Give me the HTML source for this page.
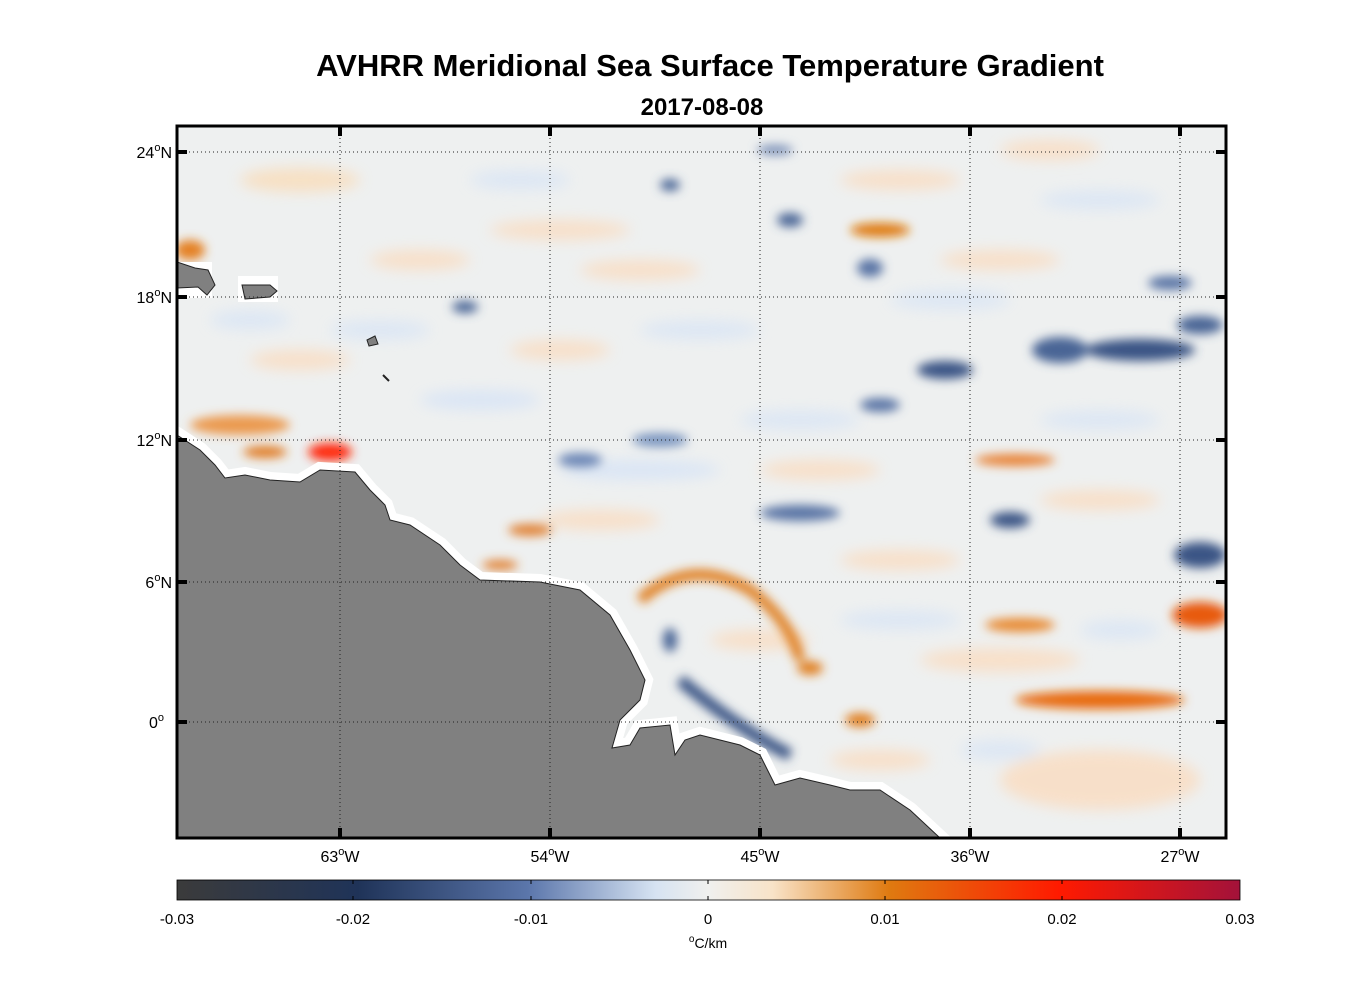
<!DOCTYPE html>
<html><head><style>
body{margin:0;background:#fff;width:1356px;height:1000px;overflow:hidden;font-family:"Liberation Sans",sans-serif}
</style></head><body>
<svg width="1356" height="1000" xmlns="http://www.w3.org/2000/svg" font-family="Liberation Sans, sans-serif">
<defs>
<filter id="b" x="-50%" y="-50%" width="200%" height="200%"><feGaussianBlur stdDeviation="7"/></filter>
<filter id="b2" x="-50%" y="-50%" width="200%" height="200%"><feGaussianBlur stdDeviation="5"/></filter>
<clipPath id="c"><rect x="177" y="126" width="1049" height="712"/></clipPath>
<linearGradient id="cb" x1="0" x2="1">
<stop offset="0" stop-color="#3b3b3b"/><stop offset="0.17" stop-color="#1f3358"/><stop offset="0.33" stop-color="#5b76ab"/>
<stop offset="0.45" stop-color="#d6e3f2"/><stop offset="0.5" stop-color="#f0f0ee"/><stop offset="0.56" stop-color="#f8e3c8"/>
<stop offset="0.67" stop-color="#df7a10"/><stop offset="0.83" stop-color="#ff1a00"/><stop offset="1" stop-color="#a3123a"/>
</linearGradient>
</defs>
<text x="710" y="76" text-anchor="middle" font-size="31" font-weight="bold">AVHRR Meridional Sea Surface Temperature Gradient</text>
<text x="702" y="115" text-anchor="middle" font-size="24" font-weight="bold">2017-08-08</text>
<g clip-path="url(#c)">
<rect x="177" y="126" width="1049" height="712" fill="#eef0f0"/>
<g filter="url(#b)" opacity="0.8">
<ellipse cx="300" cy="180" rx="60" ry="12" fill="#f9dcb8"/><ellipse cx="560" cy="230" rx="70" ry="10" fill="#fadcc0"/>
<ellipse cx="420" cy="260" rx="50" ry="10" fill="#fadcc0"/><ellipse cx="640" cy="270" rx="60" ry="10" fill="#fadcc0"/>
<ellipse cx="700" cy="330" rx="60" ry="10" fill="#d9e5f5"/><ellipse cx="480" cy="400" rx="60" ry="10" fill="#d6e3f6"/>
<ellipse cx="380" cy="330" rx="50" ry="10" fill="#d9e5f5"/><ellipse cx="560" cy="350" rx="50" ry="10" fill="#fadcc0"/>
<ellipse cx="900" cy="180" rx="60" ry="10" fill="#fadcc0"/><ellipse cx="1000" cy="260" rx="60" ry="10" fill="#fadcc0"/>
<ellipse cx="1100" cy="200" rx="60" ry="10" fill="#d9e5f5"/><ellipse cx="520" cy="180" rx="50" ry="10" fill="#d9e5f5"/>
<ellipse cx="950" cy="300" rx="60" ry="10" fill="#d9e5f5"/><ellipse cx="800" cy="420" rx="60" ry="10" fill="#d9e5f5"/>
<ellipse cx="1100" cy="420" rx="60" ry="10" fill="#d9e5f5"/><ellipse cx="1100" cy="500" rx="60" ry="10" fill="#fadcc0"/>
<ellipse cx="900" cy="560" rx="60" ry="10" fill="#fadcc0"/><ellipse cx="600" cy="520" rx="60" ry="10" fill="#fadcc0"/>
<ellipse cx="820" cy="470" rx="60" ry="10" fill="#fadcc0"/><ellipse cx="1100" cy="780" rx="100" ry="30" fill="#fadcc0"/>
<ellipse cx="1000" cy="660" rx="80" ry="12" fill="#fadcc0"/><ellipse cx="640" cy="470" rx="80" ry="10" fill="#d6e3f6"/>
<ellipse cx="900" cy="620" rx="60" ry="10" fill="#d9e5f5"/><ellipse cx="1120" cy="630" rx="40" ry="10" fill="#d9e5f5"/>
<ellipse cx="300" cy="360" rx="50" ry="10" fill="#fadcc0"/><ellipse cx="250" cy="320" rx="40" ry="10" fill="#d9e5f5"/>
<ellipse cx="1000" cy="750" rx="40" ry="10" fill="#d9e5f5"/><ellipse cx="880" cy="760" rx="50" ry="10" fill="#fadcc0"/>
<ellipse cx="760" cy="640" rx="50" ry="10" fill="#fadcc0"/><ellipse cx="1050" cy="150" rx="50" ry="10" fill="#fadcc0"/>
</g>
<g filter="url(#b2)">
<ellipse cx="190" cy="250" rx="15" ry="10" fill="#e48020"/>
<ellipse cx="240" cy="425" rx="50" ry="10" fill="#eb9a50"/>
<ellipse cx="330" cy="452" rx="22" ry="9" fill="#ff2a10"/>
<ellipse cx="265" cy="452" rx="22" ry="6" fill="#e07a20"/>
<ellipse cx="880" cy="230" rx="30" ry="7" fill="#df7a10"/>
<ellipse cx="1015" cy="460" rx="40" ry="6" fill="#e88030"/>
<ellipse cx="1100" cy="700" rx="85" ry="9" fill="#e86a10"/>
<ellipse cx="1200" cy="615" rx="28" ry="13" fill="#e85a10"/>
<ellipse cx="1020" cy="625" rx="35" ry="7" fill="#e88a30"/>
<ellipse cx="860" cy="720" rx="15" ry="7" fill="#e08020"/>
<ellipse cx="810" cy="668" rx="13" ry="7" fill="#e08020"/>
<path d="M640 600 Q690 555 750 590 Q790 620 800 660" stroke="#e08020" stroke-width="11" fill="none"/>
<ellipse cx="530" cy="530" rx="22" ry="6" fill="#e08030"/>
<ellipse cx="500" cy="565" rx="18" ry="5" fill="#e08030"/>
<ellipse cx="945" cy="370" rx="28" ry="9" fill="#3a5585"/>
<ellipse cx="1140" cy="350" rx="55" ry="11" fill="#3a5585"/>
<ellipse cx="1060" cy="350" rx="28" ry="13" fill="#4a6595"/>
<ellipse cx="1200" cy="325" rx="23" ry="9" fill="#4a6595"/>
<ellipse cx="1010" cy="520" rx="20" ry="8" fill="#3a5585"/>
<ellipse cx="800" cy="513" rx="40" ry="8" fill="#5a75a5"/>
<ellipse cx="1200" cy="555" rx="26" ry="13" fill="#3a5585"/>
<ellipse cx="1170" cy="283" rx="22" ry="7" fill="#5a75a5"/>
<ellipse cx="880" cy="405" rx="20" ry="7" fill="#5a75a5"/>
<ellipse cx="790" cy="220" rx="13" ry="7" fill="#4a6595"/>
<ellipse cx="670" cy="185" rx="10" ry="6" fill="#4a6595"/>
<ellipse cx="465" cy="307" rx="13" ry="6" fill="#4a6595"/>
<ellipse cx="775" cy="150" rx="18" ry="5" fill="#7a90b8"/>
<ellipse cx="580" cy="460" rx="22" ry="7" fill="#6a85b5"/>
<ellipse cx="660" cy="440" rx="28" ry="7" fill="#7a95c0"/>
<path d="M680 680 Q740 730 790 755" stroke="#3a5585" stroke-width="12" fill="none"/>
<ellipse cx="670" cy="640" rx="7" ry="12" fill="#4a6595"/>
<ellipse cx="870" cy="268" rx="13" ry="9" fill="#5a75a5"/>
</g>
<polygon points="177,435 200,450 215,465 225,478 245,475 270,480 300,482 320,470 355,472 370,490 385,505 390,520 410,525 440,545 460,565 480,580 540,582 580,590 610,615 630,650 645,680 640,700 620,720 612,748 630,745 640,728 670,725 675,755 685,740 700,735 740,745 760,755 775,785 800,778 830,785 850,790 880,790 910,810 940,838 177,838" fill="#fff" stroke="#fff" stroke-width="16"/>
<polygon points="177,435 200,450 215,465 225,478 245,475 270,480 300,482 320,470 355,472 370,490 385,505 390,520 410,525 440,545 460,565 480,580 540,582 580,590 610,615 630,650 645,680 640,700 620,720 612,748 630,745 640,728 670,725 675,755 685,740 700,735 740,745 760,755 775,785 800,778 830,785 850,790 880,790 910,810 940,838 177,838" fill="#808080" stroke="#222" stroke-width="1"/>
<rect x="177" y="262" width="35" height="36" fill="#fff"/><rect x="238" y="276" width="40" height="26" fill="#fff"/>
<polygon points="177,262 195,268 208,270 215,285 207,295 198,287 177,288" fill="#808080" stroke="#222"/>
<polygon points="242,285 270,285 277,291 270,297 245,299" fill="#808080" stroke="#222"/>
<polygon points="367,340 375,336 378,344 369,346" fill="#808080" stroke="#222"/>
<path d="M383 375 L389 381" stroke="#222" stroke-width="2"/>
</g>
<g stroke="#222" stroke-width="1" stroke-dasharray="1,3">
<line x1="340" y1="126" x2="340" y2="838"/><line x1="550" y1="126" x2="550" y2="838"/><line x1="760" y1="126" x2="760" y2="838"/><line x1="970" y1="126" x2="970" y2="838"/><line x1="1180" y1="126" x2="1180" y2="838"/>
<line x1="177" y1="152" x2="1226" y2="152"/><line x1="177" y1="297" x2="1226" y2="297"/><line x1="177" y1="440" x2="1226" y2="440"/><line x1="177" y1="582" x2="1226" y2="582"/><line x1="177" y1="722" x2="1226" y2="722"/>
</g>
<rect x="177" y="126" width="1049" height="712" fill="none" stroke="#000" stroke-width="3"/>
<g stroke="#000" stroke-width="4">
<path d="M340 126v10M550 126v10M760 126v10M970 126v10M1180 126v10M340 838v-10M550 838v-10M760 838v-10M970 838v-10M1180 838v-10"/>
<path d="M177 152h10M177 297h10M177 440h10M177 582h10M177 722h10M1226 152h-10M1226 297h-10M1226 440h-10M1226 582h-10M1226 722h-10"/>
</g>
<g font-size="16" text-anchor="middle">
<text x="340" y="862">63<tspan font-size="11" dy="-7">o</tspan><tspan dy="7">W</tspan></text>
<text x="550" y="862">54<tspan font-size="11" dy="-7">o</tspan><tspan dy="7">W</tspan></text>
<text x="760" y="862">45<tspan font-size="11" dy="-7">o</tspan><tspan dy="7">W</tspan></text>
<text x="970" y="862">36<tspan font-size="11" dy="-7">o</tspan><tspan dy="7">W</tspan></text>
<text x="1180" y="862">27<tspan font-size="11" dy="-7">o</tspan><tspan dy="7">W</tspan></text>
</g>
<g font-size="16" text-anchor="end">
<text x="172" y="158">24<tspan font-size="11" dy="-7">o</tspan><tspan dy="7">N</tspan></text>
<text x="172" y="303">18<tspan font-size="11" dy="-7">o</tspan><tspan dy="7">N</tspan></text>
<text x="172" y="446">12<tspan font-size="11" dy="-7">o</tspan><tspan dy="7">N</tspan></text>
<text x="172" y="588">6<tspan font-size="11" dy="-7">o</tspan><tspan dy="7">N</tspan></text>
<text x="164" y="728">0<tspan font-size="11" dy="-7">o</tspan></text>
</g>
<rect x="177" y="880" width="1063" height="20" fill="url(#cb)" stroke="#000" stroke-width="0.8"/>
<g stroke="#000" stroke-width="1"><path d="M353 900v-4M531 900v-4M708 900v-4M885 900v-4M1062 900v-4M353 880v4M531 880v4M708 880v4M885 880v4M1062 880v4"/></g>
<g font-size="15" text-anchor="middle">
<text x="177" y="924">-0.03</text><text x="353" y="924">-0.02</text><text x="531" y="924">-0.01</text><text x="708" y="924">0</text><text x="885" y="924">0.01</text><text x="1062" y="924">0.02</text><text x="1240" y="924">0.03</text>
<text x="708" y="948" font-size="14"><tspan font-size="10" dy="-6">o</tspan><tspan dy="6">C/km</tspan></text>
</g>
</svg>
</body></html>
